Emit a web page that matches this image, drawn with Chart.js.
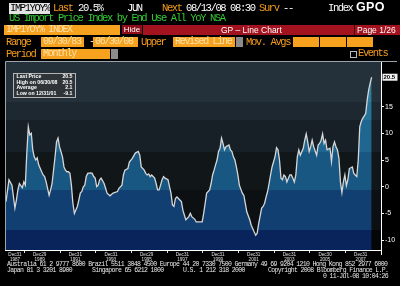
<!DOCTYPE html>
<html>
<head>
<meta charset="utf-8">
<script src="https://cdn.jsdelivr.net/npm/chart.js@4/dist/chart.umd.min.js"></script>
<style>
  body { margin: 0; background: #000; width: 400px; height: 286px; overflow: hidden; position: relative; font-family: "Liberation Mono", monospace; }
  canvas { position: absolute; left: 0; top: 0; }
  .t { position: absolute; font-size: 10.5px; line-height: 11px; letter-spacing: -1.4px; white-space: pre; z-index: 2; }
  .o { color: #f59b1c; }
  .w { color: #fff; }
  .box { position: absolute; background: #f6a21e; color: #fde0a8; font-size: 10px; line-height: 10px; letter-spacing: -1.3px; white-space: pre; z-index: 2; box-sizing: border-box; padding-left: 2px; }
  .gray { position: absolute; background: #8c8c8c; z-index: 2; }
  .f { position: absolute; color: #e8e8e8; font-size: 6.5px; line-height: 7px; letter-spacing: -0.65px; white-space: pre; z-index: 2; }
</style>
</head>
<body>
<canvas id="chart" width="400" height="286"></canvas>

<!-- header -->
<div class="t" style="left:9px;top:3px;background:#e4e4e4;color:#000;padding:0 1px;">IMP1YOY%</div>
<div class="t o" style="left:53px;top:3px;">Last</div>
<div class="t w" style="left:78px;top:3px;">20.5%</div>
<div class="t w" style="left:127px;top:3px;">JUN</div>
<div class="t o" style="left:162px;top:3px;">Next</div>
<div class="t w" style="left:186px;top:3px;">08/13/08 08:30</div>
<div class="t o" style="left:259px;top:3px;">Surv</div>
<div class="t w" style="left:283px;top:3px;">--</div>
<div class="t w" style="left:328px;top:3px;">Index</div>
<div class="t w" style="left:356px;top:1px;font-family:'Liberation Sans';font-weight:bold;font-size:12.5px;line-height:13px;letter-spacing:0.3px;">GPO</div>
<div class="t" style="left:9px;top:13px;color:#33cc33;">US Import Price Index by End Use All YoY NSA</div>

<div class="box" style="left:4px;top:25px;width:116px;height:10px;">IMP1YOY% INDEX</div>
<div class="t" style="left:122px;top:25px;width:20px;height:9px;background:#8e0d1a;color:#fff;font-family:'Liberation Sans';font-size:8px;line-height:9px;letter-spacing:0;text-align:center;">Hide</div>
<div class="t" style="left:143px;top:25px;width:257px;height:10px;background:#a3131f;"></div>
<div class="t w" style="left:221px;top:25px;font-family:'Liberation Sans';font-size:8.5px;line-height:10px;letter-spacing:0;">GP – Line Chart</div>
<div class="t" style="left:354px;top:25px;width:1px;height:10px;background:#4a0408;"></div>
<div class="t w" style="left:357px;top:25px;font-family:'Liberation Sans';font-size:8.5px;line-height:10px;letter-spacing:0;">Page 1/26</div>

<div class="t o" style="left:6px;top:37px;">Range</div>
<div class="box" style="left:41px;top:37px;width:43px;height:10px;">09/30/83</div>
<div class="t w" style="left:89px;top:36px;">-</div>
<div class="box" style="left:93px;top:37px;width:45px;height:10px;">06/30/08</div>
<div class="t o" style="left:141px;top:37px;">Upper</div>
<div class="box" style="left:173px;top:37px;width:62px;height:10px;">Revised Line</div>
<div class="gray" style="left:236px;top:37px;width:7px;height:10px;"></div>
<div class="t o" style="left:246px;top:37px;">Mov. Avgs</div>
<div class="box" style="left:293px;top:37px;width:26px;height:10px;"></div>
<div class="box" style="left:320px;top:37px;width:26px;height:10px;"></div>
<div class="box" style="left:347px;top:37px;width:26px;height:10px;"></div>

<div class="t o" style="left:6px;top:49px;">Period</div>
<div class="box" style="left:41px;top:49px;width:69px;height:10px;">Monthly</div>
<div class="gray" style="left:111px;top:49px;width:7px;height:10px;"></div>
<div class="t" style="left:350px;top:51px;width:5px;height:5px;border:1px solid #bbb;"></div>
<div class="t o" style="left:358px;top:48px;">Events</div>

<!-- footer -->
<div class="f" style="left:7px;top:261px;">Australia 61 2 9777 8600 Brazil 5511 3048 4500 Europe 44 20 7330 7500 Germany 49 69 9204 1210 Hong Kong 852 2977 6000</div>
<div class="f" style="left:7px;top:267px;">Japan 81 3 3201 8900</div>
<div class="f" style="left:92px;top:267px;">Singapore 65 6212 1000</div>
<div class="f" style="left:183px;top:267px;">U.S. 1 212 318 2000</div>
<div class="f" style="left:268px;top:267px;">Copyright 2008 Bloomberg Finance L.P.</div>
<div class="f" style="left:323px;top:273px;">0 11-Jul-08 10:04:26</div>

<script>
// months counted from Dec 1987 (0 = Dec 1987, 246 = Jun 2008)
const monthOffsets = [
  0, 2, 4, 6, 7, 8, 9, 11, 12, 13, 14, 15, 16, 17, 18, 19, 20, 21, 22, 24,
  25, 26, 27, 29, 30, 31, 33, 34, 35, 36, 38, 39, 40, 41, 42, 43, 44, 45, 46, 48,
  49, 50, 51, 52, 53, 54, 55, 57, 58, 59, 60, 61, 62, 63, 64, 66, 67, 68, 70, 72,
  75, 76, 78, 79, 80, 82, 83, 85, 87, 89, 90, 91, 92, 93, 94, 95, 96, 97, 98, 100,
  101, 102, 103, 104, 105, 106, 107, 109, 110, 111, 112, 113, 114, 115, 116, 118, 119, 120, 121, 122,
  123, 124, 125, 127, 128, 130, 132, 133, 134, 135, 137, 138, 139, 140, 141, 142, 143, 144, 145, 146,
  147, 148, 150, 151, 152, 153, 154, 155, 156, 157, 159, 160, 161, 162, 164, 165, 167, 168, 169, 170,
  172, 173, 174, 175, 176, 177, 178, 179, 181, 182, 183, 184, 185, 186, 187, 188, 189, 190, 191, 192,
  193, 194, 195, 196, 197, 198, 200, 201, 202, 203, 204, 205, 206, 207, 209, 210, 211, 212, 213, 214,
  215, 216, 218, 219, 220, 221, 222, 223, 224, 225, 226, 227, 228, 229, 230, 231, 233, 234, 235, 236,
  237, 238, 239, 240, 242, 243, 244, 245, 246
];
const yoyValues = [
  -2.8, 1.3, 0.3, -4.0, -2.5, -0.6, 0.6, -0.2, 0.9, 0.3, 6.3, 11.2, 9.7, 10.0, 6.9, 5.6, 5.0, 5.4, 4.1, 2.8,
  2.2, 1.9, 0.9, -1.6, -0.6, 0.6, 5.6, 8.4, 9.1, 7.5, 5.6, 3.7, 3.1, 2.8, 2.8, 2.5, 0.3, -3.1, -5.0, -3.7,
  -2.5, -1.2, -0.9, 0.0, 0.3, 1.9, 2.5, 2.6, 2.5, 1.9, 1.6, 0.0, 0.3, 1.3, 1.6, 0.6, -0.3, -1.2, -1.7, -1.2,
  -0.9, -0.3, 0.3, 2.2, 3.1, 3.4, 4.6, 5.3, 6.3, 6.6, 5.9, 3.7, 3.4, 3.1, 2.5, 2.2, 2.4, 1.9, 2.2, 1.6,
  0.6, -0.6, -0.6, 0.3, 1.3, 1.9, 1.6, 1.3, 0.0, -1.2, -3.4, -3.7, -2.2, -1.9, -2.2, -2.8, -4.4, -5.3, -6.2, -5.9,
  -5.6, -5.0, -5.6, -6.1, -6.6, -6.6, -6.6, -5.0, -3.1, -1.2, -0.6, 0.6, 2.2, 3.1, 4.1, 5.0, 6.6, 7.2, 9.1, 8.1,
  6.9, 7.5, 7.8, 6.9, 6.6, 5.6, 5.0, 3.7, 2.2, 0.3, -1.2, -1.6, -3.1, -4.7, -6.2, -7.2, -8.5, -9.1, -8.7, -6.9,
  -4.0, -3.7, -3.1, -1.9, -0.9, 0.6, 2.2, 3.7, 5.6, 7.3, 6.9, 5.0, 1.6, 1.3, 2.2, 1.9, 0.9, 1.6, 2.2, 2.2,
  1.6, 0.9, 2.2, 5.6, 6.9, 5.9, 7.2, 8.7, 9.9, 8.4, 6.6, 7.5, 8.7, 7.5, 5.9, 7.8, 8.1, 8.7, 9.9, 8.1,
  8.7, 6.9, 7.2, 4.7, 7.5, 8.4, 7.5, 6.9, 5.3, 0.9, -1.1, 0.9, 2.2, 0.2, 1.3, 3.4, 3.7, 2.5, 2.2, 1.9,
  5.0, 11.2, 12.2, 12.8, 13.7, 16.2, 18.1, 19.4, 20.5
];

const yTicks = [-10, -5, 0, 5, 10, 15];
const xLabelYears = [1987, 1989, 1991, 1993, 1995, 1997, 1999, 2001, 2003, 2005, 2007];
const xLabelDays = ["Dec31", "Dec29", "Dec31", "Dec31", "Dec29", "Dec31", "Dec31", "Dec31", "Dec31", "Dec30", "Dec31"];
const xMinorYears = [1988, 1990, 1992, 1994, 1996, 1998, 2000, 2002, 2004, 2006];

const statLabels = ["Last Price", "High on 06/30/08", "Average", "Low on 12/31/01"];
const statValues = ["20.5", "20.5", "2.1", "-9.1"];

const bandStops = [0, 0.213, 0.309, 0.479, 0.681, 0.894, 1];
const bgBands = ["#24313a", "#1d2830", "#172026", "#111719", "#0c1012", "#050607"];
const fillBands = ["#2c7e9f", "#26739a", "#1f6790", "#195783", "#123f72", "#09245a"];

function stepped(ctx, area, colors) {
  const g = ctx.createLinearGradient(0, area.top, 0, area.bottom);
  colors.forEach((c, i) => {
    g.addColorStop(bandStops[i], c);
    g.addColorStop(bandStops[i + 1], c);
  });
  return g;
}

const decToOffset = yr => (yr - 1987) * 12;

const backdrop = {
  id: "backdrop",
  beforeDatasetsDraw(chart) {
    const { ctx, chartArea: a } = chart;
    ctx.save();
    ctx.fillStyle = stepped(ctx, a, bgBands);
    ctx.fillRect(a.left, a.top, a.right - a.left, a.bottom - a.top);
    ctx.restore();
  }
};

const overlay = {
  id: "overlay",
  afterDraw(chart) {
    const { ctx, chartArea: a } = chart;
    const xs = chart.scales.x, ys = chart.scales.y;
    ctx.save();

    // frame
    ctx.strokeStyle = "#9aa4aa";
    ctx.lineWidth = 1;
    ctx.beginPath();
    ctx.moveTo(a.left - 0.5, a.bottom);
    ctx.lineTo(a.left - 0.5, a.top - 0.5);
    ctx.lineTo(397, a.top - 0.5);
    ctx.stroke();
    ctx.strokeStyle = "#fff";
    ctx.beginPath();
    ctx.moveTo(a.left - 1, a.bottom + 0.5);
    ctx.lineTo(a.right + 1, a.bottom + 0.5);
    ctx.moveTo(a.right + 0.5, a.bottom);
    ctx.lineTo(a.right + 0.5, a.bottom + 5);
    ctx.stroke();

    // minor ticks on the date axis
    ctx.strokeStyle = "#ddd";
    ctx.beginPath();
    xMinorYears.forEach(yr => {
      const px = Math.round(xs.getPixelForValue(decToOffset(yr))) + 0.5;
      ctx.moveTo(px, a.bottom + 1);
      ctx.lineTo(px, a.bottom + 3);
    });
    ctx.stroke();

    // date labels
    ctx.fillStyle = "#e0e0e0";
    ctx.font = '4.6px "Liberation Sans"';
    ctx.textAlign = "center";
    ctx.textBaseline = "middle";
    xLabelYears.forEach((yr, i) => {
      let px = xs.getPixelForValue(decToOffset(yr)) - 2;
      px = Math.max(px, a.left + 9);
      ctx.fillText(xLabelDays[i], px, a.bottom + 4.5);
      ctx.fillText(String(yr), px, a.bottom + 10);
    });

    // last value tag
    const last = yoyValues[yoyValues.length - 1];
    const ty = ys.getPixelForValue(last);
    ctx.fillStyle = "#f2f2f2";
    ctx.fillRect(a.right + 1.5, ty - 3.5, 15, 7);
    ctx.fillStyle = "#000";
    ctx.font = 'bold 6px "Liberation Sans"';
    ctx.textAlign = "left";
    ctx.fillText(last.toFixed(1), a.right + 2.5, ty + 0.3);

    // stats box
    const bx = a.left + 7.5, by = a.top + 11.5, bw = 62, bh = 24;
    ctx.fillStyle = "#2e3438";
    ctx.fillRect(bx, by, bw, bh);
    ctx.strokeStyle = "#b4b4b4";
    ctx.strokeRect(bx, by, bw, bh);
    ctx.fillStyle = "#fff";
    ctx.font = 'bold 5.2px "Liberation Sans"';
    statLabels.forEach((lab, i) => {
      const yy = by + 3.5 + i * 5.4;
      ctx.textAlign = "left";
      ctx.fillText(lab, bx + 3, yy);
      ctx.textAlign = "right";
      ctx.fillText(statValues[i], bx + bw - 3, yy);
    });
    ctx.restore();
  }
};

const points = monthOffsets.map((m, i) => ({ x: m, y: yoyValues[i] }));

new Chart(document.getElementById("chart").getContext("2d"), {
  type: "line",
  data: {
    datasets: [{
      data: points,
      borderColor: "#d6d6d6",
      borderWidth: 1.3,
      pointRadius: 0,
      tension: 0,
      fill: "start",
      backgroundColor: c => {
        const a = c.chart.chartArea;
        if (!a) return "#1a5a85";
        return stepped(c.chart.ctx, a, fillBands);
      }
    }]
  },
  options: {
    responsive: false,
    animation: false,
    events: [],
    layout: { padding: { left: 6, top: 62, right: 0, bottom: 36 } },
    plugins: { legend: { display: false }, tooltip: { enabled: false } },
    scales: {
      x: { type: "linear", display: false, min: 0, max: 252.3 },
      y: {
        position: "right",
        min: -11.85,
        max: 23.35,
        afterFit(s) { s.width = 19; },
        afterBuildTicks(s) { s.ticks = yTicks.map(v => ({ value: v })); },
        grid: { drawOnChartArea: false, color: "#fff", tickLength: 3 },
        border: { color: "#fff" },
        ticks: { color: "#fff", padding: 1, font: { size: 7, family: "Liberation Sans" } }
      }
    }
  },
  plugins: [backdrop, overlay]
});
</script>
</body>
</html>
